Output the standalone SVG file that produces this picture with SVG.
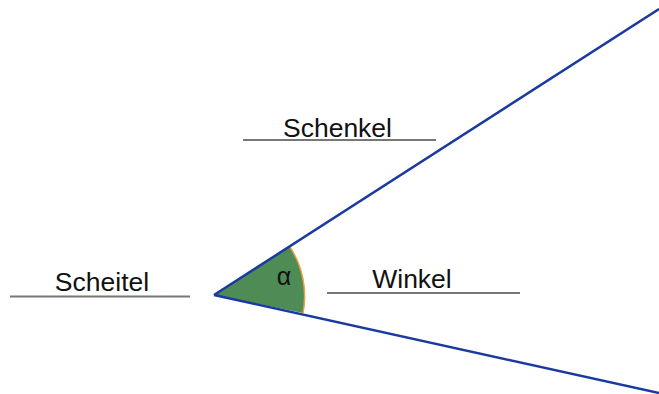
<svg xmlns="http://www.w3.org/2000/svg" width="659" height="394" viewBox="0 0 659 394">
<style>
.lbl{font-family:"Liberation Sans",Arial,sans-serif;font-size:26.5px;fill:#111;text-anchor:middle}
.ul{stroke:#777;stroke-width:2.2;fill:none}
.ray{stroke:#1a3aa0;stroke-width:2.5;fill:none}
</style>
<rect width="659" height="394" fill="#fff"/>
<g id="angle">
<path d="M214,295 L290,247 A90,90 0 0 1 303,313 Z" fill="#4f8b55" stroke="none"/>
<path d="M290,247 A90,90 0 0 1 303,313" stroke="#e8a040" stroke-width="1.5" fill="none"/>
<text x="284" y="285" class="lbl" style="font-size:25px">α</text>
</g>
<g id="connectors">
<line class="ray" x1="214" y1="295" x2="659" y2="9"/>
<line class="ray" x1="214" y1="295" x2="659" y2="393"/>
</g>
<g id="scheitel">
<text x="102" y="291" class="lbl">Scheitel</text>
<line class="ul" x1="10" y1="296.5" x2="190" y2="296.5"/>
</g>
<g id="schenkel">
<text x="337.5" y="137" class="lbl">Schenkel</text>
<line class="ul" x1="243" y1="140" x2="436" y2="140"/>
</g>
<g id="winkel">
<text x="412" y="288" class="lbl">Winkel</text>
<line class="ul" x1="327" y1="293" x2="520" y2="293"/>
</g>
</svg>
